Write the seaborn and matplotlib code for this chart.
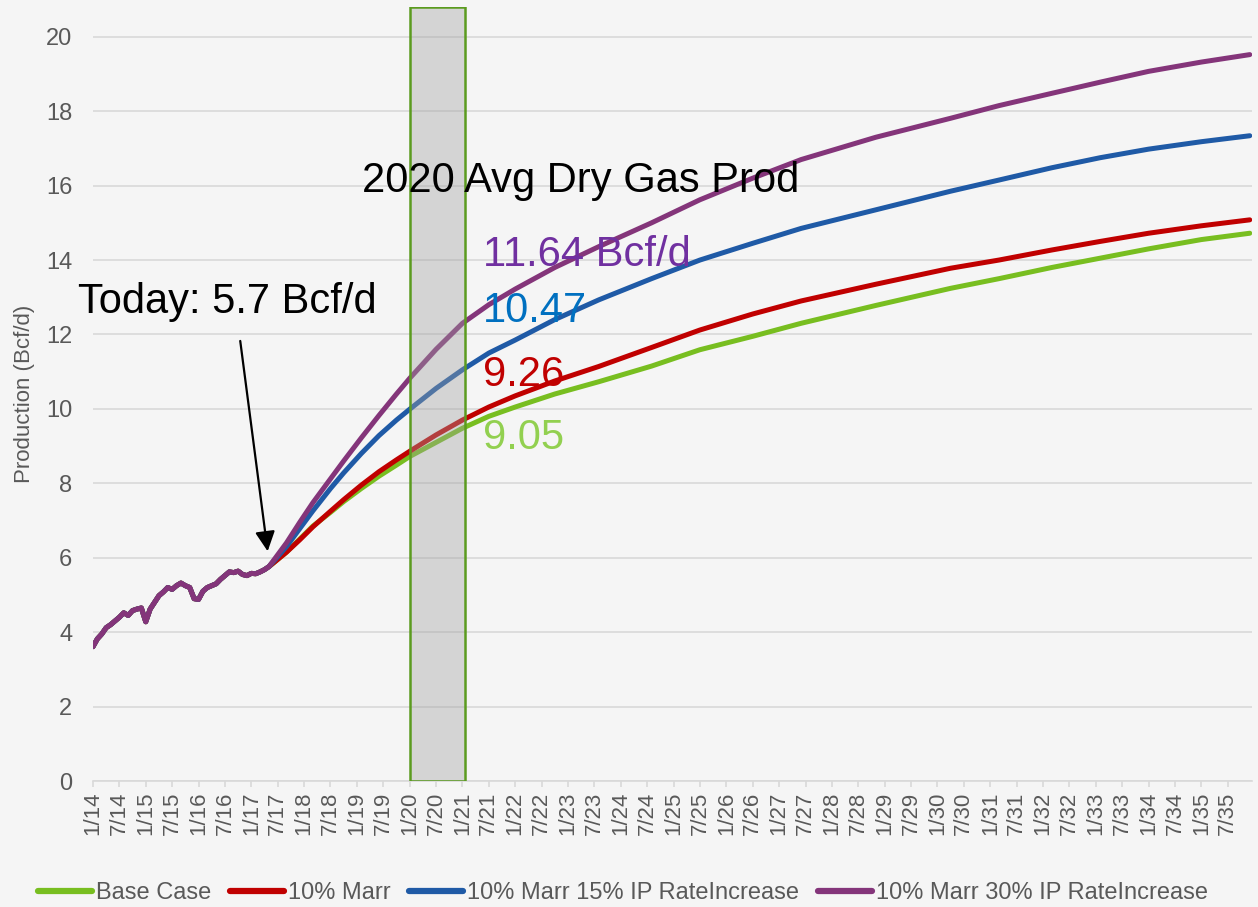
import numpy as np
import pandas as pd
import matplotlib
matplotlib.use("Agg")
import matplotlib.pyplot as plt
from matplotlib.lines import Line2D
from matplotlib.colors import to_rgba
import seaborn as sns

# historical monthly production 1/14 .. 5/17 (month index 0..40)
hist_values = [3.61, 3.82, 3.95, 4.12, 4.20, 4.30, 4.40, 4.52, 4.45, 4.58,
               4.62, 4.65, 4.28, 4.62, 4.80, 4.98, 5.08, 5.20, 5.15, 5.25,
               5.32, 5.25, 5.20, 4.90, 4.88, 5.10, 5.20, 5.25, 5.30, 5.42,
               5.52, 5.62, 5.60, 5.64, 5.55, 5.52, 5.58, 5.57, 5.62, 5.68,
               5.76]

# forecast (month index since 1/14)
fc_months = [40, 44, 47, 50, 54, 57, 61, 65, 69, 72, 78, 84, 90, 96, 105,
             115, 127, 138, 150, 161, 178, 195, 206, 218, 229, 240, 252, 263]
base_case = [5.76, 6.15, 6.50, 6.85, 7.22, 7.51, 7.86, 8.19, 8.49, 8.72,
             9.10, 9.48, 9.80, 10.05, 10.40, 10.73, 11.15, 11.59, 11.95,
             12.30, 12.78, 13.24, 13.50, 13.80, 14.05, 14.30, 14.55, 14.72]
marr10 = [5.76, 6.15, 6.48, 6.83, 7.25, 7.56, 7.95, 8.31, 8.63, 8.86,
          9.30, 9.70, 10.05, 10.35, 10.75, 11.14, 11.65, 12.12, 12.55,
          12.90, 13.35, 13.78, 14.00, 14.27, 14.50, 14.72, 14.92, 15.08]
marr10_ip15 = [5.76, 6.30, 6.78, 7.26, 7.86, 8.28, 8.80, 9.28, 9.70, 9.99,
               10.55, 11.05, 11.50, 11.85, 12.40, 12.93, 13.50, 14.00, 14.45,
               14.85, 15.35, 15.85, 16.15, 16.48, 16.75, 16.98, 17.18, 17.34]
marr10_ip30 = [5.76, 6.40, 6.95, 7.48, 8.12, 8.60, 9.22, 9.82, 10.40, 10.82,
               11.60, 12.30, 12.80, 13.22, 13.80, 14.36, 15.00, 15.62, 16.20,
               16.70, 17.30, 17.81, 18.15, 18.48, 18.78, 19.07, 19.32, 19.52]

series_names = ["Base Case", "10% Marr", "10% Marr 15% IP RateIncrease",
                "10% Marr 30% IP RateIncrease"]
series_colors = ["#78be20", "#c00000", "#1f5aa6", "#84357a"]

tick_pos = list(range(0, 259, 6))
tick_labels = ["1/14", "7/14", "1/15", "7/15", "1/16", "7/16", "1/17", "7/17",
               "1/18", "7/18", "1/19", "7/19", "1/20", "7/20", "1/21", "7/21",
               "1/22", "7/22", "1/23", "7/23", "1/24", "7/24", "1/25", "7/25",
               "1/26", "7/26", "1/27", "7/27", "1/28", "7/28", "1/29", "7/29",
               "1/30", "7/30", "1/31", "7/31", "1/32", "7/32", "1/33", "7/33",
               "1/34", "7/34", "1/35", "7/35"]

avg2020_labels = ["11.64 Bcf/d", "10.47", "9.26", "9.05"]
avg2020_colors = ["#7030a0", "#0070c0", "#c00000", "#92d050"]
avg2020_y = [14.14, 12.63, 10.91, 9.22]

# long-form table
hist_months = list(range(len(hist_values)))
rows = []
for name, vals in zip(series_names, [base_case, marr10, marr10_ip15, marr10_ip30]):
    for m, v in zip(hist_months[:-1], hist_values[:-1]):
        rows.append((name, m, v))
    for m, v in zip(fc_months, vals):
        rows.append((name, m, v))
df = pd.DataFrame(rows, columns=["series", "month", "prod"])

sns.set_style("white")
plt.rcParams["font.family"] = ["Liberation Sans", "DejaVu Sans"]

bg = "#f5f5f5"
grey = "#595959"
fig = plt.figure(figsize=(12.58, 9.07), dpi=100, facecolor=bg)
ax = fig.add_axes([0.0739, 0.1389, 0.9213, 0.8534])
ax.set_facecolor(bg)

sns.lineplot(data=df, x="month", y="prod", hue="series", hue_order=series_names,
             palette=series_colors, estimator=None, sort=True, linewidth=3.6,
             legend=False, ax=ax, solid_capstyle="round",
             solid_joinstyle="round", zorder=3)

# 2020 box
ax.axvspan(72, 84.5, ymin=0, ymax=1, facecolor=to_rgba("#a0a0a0", 0.39),
           edgecolor="#5b9b1f", linewidth=1.8, zorder=4)

ax.set_xlim(0, 263.5)
ax.set_ylim(0, 20.8)
ax.set_yticks(range(0, 21, 2))
ax.set_xticks(tick_pos)
ax.set_xticklabels(tick_labels, rotation=90)
ax.yaxis.grid(True, color="#d9d9d9", linewidth=1.2, zorder=0)
ax.set_axisbelow(True)
for s in ["top", "right", "left"]:
    ax.spines[s].set_visible(False)
ax.spines["bottom"].set_color("#d9d9d9")
ax.spines["bottom"].set_linewidth(1.2)
ax.tick_params(axis="y", length=0, pad=15, labelsize=17, labelcolor=grey)
ax.tick_params(axis="x", length=4.5, width=1.2, color="#d9d9d9", pad=3,
               labelsize=16, labelcolor=grey, bottom=True)
ax.set_xlabel("")
ax.set_ylabel("Production (Bcf/d)", fontsize=16, color=grey, labelpad=8)

# annotations
ax.text(-3.4, 12.88, "Today: 5.7 Bcf/d", fontsize=30, color="black",
        ha="left", va="center", zorder=6)
ax.annotate("", xy=(39.8, 6.1), xytext=(33.4, 11.9),
            arrowprops=dict(arrowstyle="-|>", color="black", lw=1.6,
                            mutation_scale=30), zorder=6)
ax.text(61.1, 16.13, "2020 Avg Dry Gas Prod", fontsize=30, color="black",
        ha="left", va="center", zorder=6)
for lab, col, yv in zip(avg2020_labels, avg2020_colors, avg2020_y):
    ax.text(88.6, yv, lab, fontsize=30, color=col, ha="left", va="center", zorder=6)

handles = [Line2D([0], [0], color=c, lw=4.5, solid_capstyle="round") for c in series_colors]
leg = fig.legend(handles, series_names, loc="center", bbox_to_anchor=(0.495, 0.0154),
                 ncol=4, frameon=False, fontsize=17, handlelength=2.3,
                 handletextpad=0.15, columnspacing=0.8, borderpad=0)
for t in leg.get_texts():
    t.set_color(grey)

fig.savefig("out.png", dpi=100, facecolor=bg)
